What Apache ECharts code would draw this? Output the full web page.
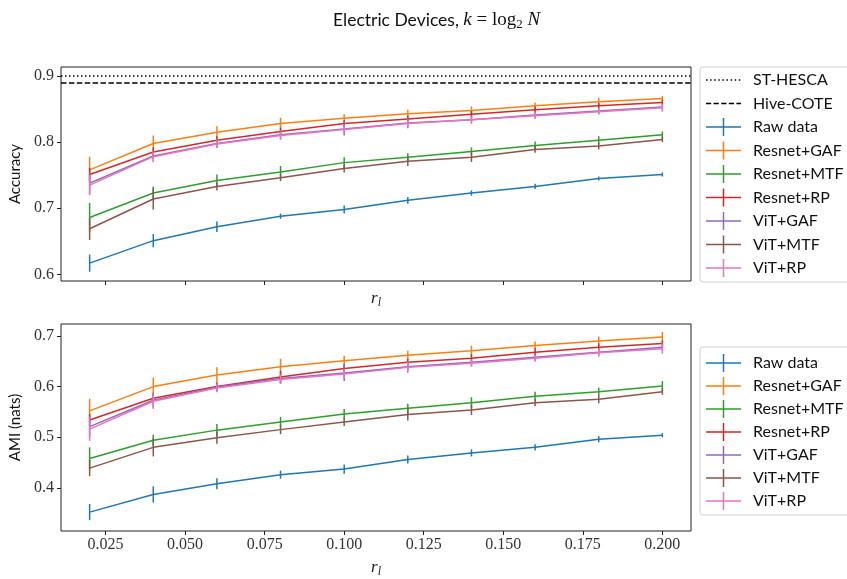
<!DOCTYPE html>
<html>
<head>
<meta charset="utf-8">
<script src="https://cdn.jsdelivr.net/npm/echarts@6/dist/echarts.min.js"></script>
<style>
  html, body { margin: 0; padding: 0; background: #fff; }
  #chart { width: 847px; height: 579px; }
</style>
</head>
<body>
<div id="chart"></div>
<script>
// 数据
const rl = [0.02, 0.04, 0.06, 0.08, 0.10, 0.12, 0.14, 0.16, 0.18, 0.20];
const xTicks = [0.025, 0.05, 0.075, 0.1, 0.125, 0.15, 0.175, 0.2];
const accTicks = [0.6, 0.7, 0.8, 0.9];
const amiTicks = [0.4, 0.5, 0.6, 0.7];

const methods = ["Raw data", "Resnet+GAF", "Resnet+MTF", "Resnet+RP", "ViT+GAF", "ViT+MTF", "ViT+RP"];
const colors = ["#1f77b4", "#ff7f0e", "#2ca02c", "#d62728", "#9467bd", "#8c564b", "#e377c2"];

const stHesca = 0.898;
const hiveCote = 0.8925;

// Accuracy
const accRaw = [0.617, 0.651, 0.672, 0.688, 0.698, 0.712, 0.723, 0.733, 0.745, 0.751];
const accResGAF = [0.758, 0.798, 0.815, 0.828, 0.836, 0.843, 0.848, 0.855, 0.861, 0.866];
const accResMTF = [0.686, 0.723, 0.742, 0.755, 0.769, 0.777, 0.786, 0.795, 0.803, 0.811];
const accResRP = [0.751, 0.785, 0.803, 0.816, 0.828, 0.835, 0.842, 0.849, 0.855, 0.860];
const accVitGAF = [0.738, 0.779, 0.798, 0.811, 0.820, 0.829, 0.834, 0.841, 0.847, 0.853];
const accVitMTF = [0.669, 0.714, 0.733, 0.746, 0.760, 0.771, 0.777, 0.789, 0.794, 0.804];
const accVitRP = [0.735, 0.778, 0.797, 0.810, 0.819, 0.828, 0.834, 0.840, 0.846, 0.852];

// Accuracy 误差
const accErrRaw = [0.013, 0.010, 0.008, 0.004, 0.006, 0.005, 0.004, 0.004, 0.003, 0.003];
const accErrResGAF = [0.020, 0.012, 0.009, 0.009, 0.006, 0.006, 0.006, 0.005, 0.006, 0.004];
const accErrResMTF = [0.022, 0.010, 0.009, 0.009, 0.008, 0.006, 0.006, 0.006, 0.006, 0.005];
const accErrResRP = [0.010, 0.007, 0.006, 0.006, 0.005, 0.005, 0.005, 0.005, 0.004, 0.004];
const accErrVitGAF = [0.016, 0.008, 0.007, 0.007, 0.010, 0.008, 0.006, 0.005, 0.005, 0.004];
const accErrVitMTF = [0.017, 0.016, 0.006, 0.005, 0.006, 0.007, 0.007, 0.005, 0.005, 0.004];
const accErrVitRP = [0.015, 0.008, 0.006, 0.006, 0.006, 0.005, 0.005, 0.005, 0.004, 0.006];

// AMI
const amiRaw = [0.352, 0.387, 0.408, 0.426, 0.437, 0.456, 0.469, 0.480, 0.496, 0.504];
const amiResGAF = [0.552, 0.600, 0.623, 0.639, 0.651, 0.662, 0.671, 0.681, 0.690, 0.698];
const amiResMTF = [0.458, 0.494, 0.514, 0.530, 0.546, 0.557, 0.568, 0.581, 0.590, 0.601];
const amiResRP = [0.534, 0.577, 0.600, 0.619, 0.636, 0.648, 0.656, 0.668, 0.678, 0.685];
const amiVitGAF = [0.521, 0.573, 0.599, 0.616, 0.627, 0.639, 0.648, 0.658, 0.668, 0.678];
const amiVitMTF = [0.439, 0.480, 0.499, 0.515, 0.530, 0.545, 0.554, 0.568, 0.575, 0.590];
const amiVitRP = [0.516, 0.571, 0.597, 0.614, 0.625, 0.638, 0.646, 0.656, 0.667, 0.675];

// AMI 误差
const amiErrRaw = [0.016, 0.016, 0.011, 0.008, 0.009, 0.008, 0.007, 0.006, 0.006, 0.004];
const amiErrResGAF = [0.024, 0.018, 0.015, 0.016, 0.010, 0.009, 0.010, 0.008, 0.009, 0.010];
const amiErrResMTF = [0.022, 0.011, 0.012, 0.010, 0.010, 0.009, 0.011, 0.009, 0.008, 0.010];
const amiErrResRP = [0.012, 0.010, 0.008, 0.012, 0.008, 0.007, 0.008, 0.008, 0.007, 0.006];
const amiErrVitGAF = [0.020, 0.015, 0.009, 0.010, 0.016, 0.008, 0.007, 0.007, 0.006, 0.008];
const amiErrVitMTF = [0.016, 0.018, 0.012, 0.009, 0.008, 0.012, 0.010, 0.007, 0.008, 0.006];
const amiErrVitRP = [0.023, 0.015, 0.008, 0.009, 0.009, 0.011, 0.007, 0.007, 0.008, 0.010];

const accVals = [accRaw, accResGAF, accResMTF, accResRP, accVitGAF, accVitMTF, accVitRP];
const accErrs = [accErrRaw, accErrResGAF, accErrResMTF, accErrResRP, accErrVitGAF, accErrVitMTF, accErrVitRP];
const amiVals = [amiRaw, amiResGAF, amiResMTF, amiResRP, amiVitGAF, amiVitMTF, amiVitRP];
const amiErrs = [amiErrRaw, amiErrResGAF, amiErrResMTF, amiErrResRP, amiErrVitGAF, amiErrVitMTF, amiErrVitRP];

const SERIF = "'Liberation Serif', 'DejaVu Serif', serif";
const SANS = "Lato, 'Noto Sans', sans-serif";
const INK = "#222";

// 图例图标: 十字 / 点线 / 虚线
const IW = 35, IH = 18;
const plusIcon = `path://M0,${IH / 2 - 0.75}H${IW}V${IH / 2 + 0.75}H0Z M${IW / 2 - 0.75},0H${IW / 2 + 0.75}V${IH}H${IW / 2 - 0.75}Z`;
function dashIcon(dash, gap) {
  let p = `path://M0,0H0.01V0.01H0Z`; // 撑开包围盒
  for (let x = 0; x < IW; x += dash + gap) {
    const x2 = Math.min(x + dash, IW);
    p += ` M${x},${IH / 2 - 0.75}H${x2}V${IH / 2 + 0.75}H${x}Z`;
  }
  p += ` M${IW - 0.01},${IH - 0.01}H${IW}V${IH}H${IW - 0.01}Z`;
  return p;
}

const legendItems = methods.map((m, i) => ({
  name: m,
  icon: plusIcon,
  itemStyle: { color: colors[i], borderWidth: 0 },
}));

function legendBox(top, gap, padTop, withRefs) {
  const data = withRefs
    ? [
        { name: "ST-HESCA", icon: dashIcon(1.5, 2.6), itemStyle: { color: "#000", borderWidth: 0 } },
        { name: "Hive-COTE", icon: dashIcon(5.2, 2.4), itemStyle: { color: "#000", borderWidth: 0 } },
      ].concat(legendItems)
    : legendItems;
  return {
    orient: "vertical",
    left: 700,
    top: top,
    itemWidth: IW,
    itemHeight: IH,
    itemGap: gap,
    padding: [padTop, 14, 5, 6],
    borderColor: "#d0d0d0",
    borderWidth: 1,
    borderRadius: 3,
    backgroundColor: "#fff",
    selectedMode: false,
    data: data,
    textStyle: { fontFamily: SANS, fontSize: 16, color: "#111", padding: [0, 0, 0, 7], lineHeight: 18 },
  };
}

function xAxisOpt(gridIndex, labels) {
  return {
    type: "value",
    gridIndex: gridIndex,
    min: 0.011,
    max: 0.209,
    splitLine: { show: false },
    axisLine: { show: false },
    axisTick: { show: true, customValues: xTicks, length: 4, lineStyle: { color: INK, width: 1 } },
    axisLabel: {
      show: labels,
      customValues: xTicks,
      formatter: (v) => v.toFixed(3),
      fontFamily: SERIF,
      fontSize: 16,
      color: "#333",
      margin: 6,
    },
    name: "{r|r}{s|l}",
    nameLocation: "middle",
    nameGap: labels ? 27 : 8,
    nameTextStyle: {
      rich: {
        r: { fontFamily: SERIF, fontStyle: "italic", fontSize: 17, color: "#222" },
        s: { fontFamily: SERIF, fontStyle: "italic", fontSize: 12, color: "#222", padding: [8, 0, 0, 0] },
      },
    },
  };
}

function yAxisOpt(gridIndex, min, max, ticks, name) {
  return {
    type: "value",
    gridIndex: gridIndex,
    min: min,
    max: max,
    splitLine: { show: false },
    axisLine: { show: false },
    axisTick: { show: true, customValues: ticks, length: 4, lineStyle: { color: INK, width: 1 } },
    axisLabel: {
      customValues: ticks,
      formatter: (v) => v.toFixed(1),
      fontFamily: SERIF,
      fontSize: 16,
      color: "#333",
      margin: 7,
    },
    name: name,
    nameLocation: "middle",
    nameRotate: 90,
    nameGap: 36,
    nameTextStyle: { fontFamily: SANS, fontSize: 15, color: "#111" },
  };
}

// 折线 + 误差棒
const series = [];
function addPanel(gridIndex, vals, errs) {
  methods.forEach((m, i) => {
    const color = colors[i];
    series.push({
      name: m,
      type: "line",
      xAxisIndex: gridIndex,
      yAxisIndex: gridIndex,
      data: rl.map((x, k) => [x, vals[i][k]]),
      symbol: "none",
      lineStyle: { color: color, width: 1.5 },
      itemStyle: { color: color },
      z: 2 + i,
      silent: true,
    });
    series.push({
      name: m + " err",
      type: "custom",
      xAxisIndex: gridIndex,
      yAxisIndex: gridIndex,
      data: rl.map((x, k) => [x, vals[i][k], errs[i][k]]),
      encode: { x: 0, y: 1 },
      z: 2 + i,
      silent: true,
      renderItem: (params, api) => {
        const x = api.value(0), y = api.value(1), e = api.value(2);
        const p1 = api.coord([x, y - e]);
        const p2 = api.coord([x, y + e]);
        return {
          type: "line",
          shape: { x1: p1[0], y1: p1[1], x2: p2[0], y2: p2[1] },
          style: { stroke: color, lineWidth: 1.5 },
        };
      },
    });
  });
}
addPanel(0, accVals, accErrs);
addPanel(1, amiVals, amiErrs);

// 参考线
series.push({
  name: "ST-HESCA",
  type: "line",
  xAxisIndex: 0,
  yAxisIndex: 0,
  data: [],
  itemStyle: { color: "#000" },
  markLine: {
    silent: true,
    symbol: "none",
    label: { show: false },
    lineStyle: { color: "#000", type: [1.5, 2.5], width: 1.5 },
    data: [{ yAxis: stHesca }],
  },
});
series.push({
  name: "Hive-COTE",
  type: "line",
  xAxisIndex: 0,
  yAxisIndex: 0,
  data: [],
  itemStyle: { color: "#000" },
  markLine: {
    silent: true,
    symbol: "none",
    label: { show: false },
    lineStyle: { color: "#000", type: [5.5, 2.4], width: 1.5 },
    data: [{ yAxis: hiveCote }],
  },
});

const option = {
  animation: false,
  backgroundColor: "#fff",
  title: {
    text: "{a|Electric Devices, }{m|k}{e| = }{a2|log}{s|2}{m| N}",
    left: 328,
    top: 4,
    textStyle: {
      fontWeight: "normal",
      rich: {
        a: { fontFamily: SANS, fontSize: 17.5, fontWeight: "normal", color: "#111" },
        m: { fontFamily: SERIF, fontStyle: "italic", fontWeight: "normal", fontSize: 19, color: "#111" },
        e: { fontFamily: SERIF, fontWeight: "normal", fontSize: 19, color: "#111" },
        a2: { fontFamily: SERIF, fontWeight: "normal", fontSize: 19, color: "#111" },
        s: { fontFamily: SERIF, fontWeight: "normal", fontSize: 13, color: "#111", padding: [9, 0, 0, 0] },
      },
    },
  },
  grid: [
    { left: 61, top: 67, width: 630, height: 214, show: true, borderColor: INK, borderWidth: 1, backgroundColor: "transparent" },
    { left: 61, top: 324, width: 630, height: 215, show: true, borderColor: INK, borderWidth: 1, backgroundColor: "transparent" },
  ],
  xAxis: [xAxisOpt(0, false), xAxisOpt(1, true)],
  yAxis: [
    yAxisOpt(0, 0.59, 0.9136, accTicks, "Accuracy"),
    yAxisOpt(1, 0.3147, 0.7237, amiTicks, "AMI (nats)"),
  ],
  legend: [legendBox(67, 5.5, 4, true), legendBox(347, 5, 7, false)],
  series: series,
};

const myChart = echarts.init(document.getElementById("chart"));
myChart.setOption(option);
</script>
</body>
</html>
